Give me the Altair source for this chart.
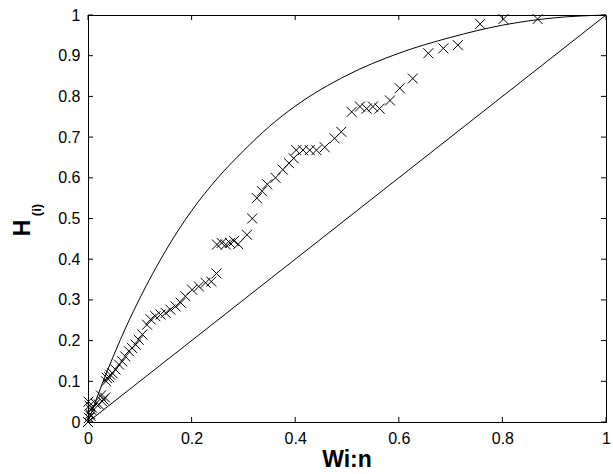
import altair as alt
import pandas as pd

# scatter points (Wi:n, H(i))
pts_x = [0.0, 0.002, 0.004, 0.006, 0.003, 0.008, 0.001, 0.005,
         0.015, 0.021, 0.027, 0.03, 0.025, 0.033,
         0.035, 0.037, 0.041, 0.043, 0.047, 0.053, 0.06, 0.066, 0.072, 0.079, 0.085,
         0.092, 0.098, 0.105, 0.114, 0.121, 0.13, 0.14, 0.15, 0.159, 0.169, 0.179,
         0.188, 0.201, 0.214, 0.227, 0.238, 0.248,
         0.249, 0.258, 0.266, 0.274, 0.282, 0.29, 0.307, 0.317,
         0.326, 0.336, 0.346, 0.362, 0.376, 0.388, 0.397,
         0.402, 0.415, 0.428, 0.441, 0.457, 0.476, 0.489,
         0.509, 0.525, 0.538, 0.55, 0.563, 0.583, 0.602, 0.627,
         0.657, 0.686, 0.714, 0.757, 0.802, 0.868]
pts_y = [0.0, 0.01, 0.02, 0.03, 0.04, 0.035, 0.05, 0.015,
         0.045, 0.043, 0.051, 0.055, 0.065, 0.06,
         0.1, 0.108, 0.11, 0.116, 0.12, 0.129, 0.141, 0.149, 0.161, 0.174, 0.182,
         0.19, 0.202, 0.215, 0.239, 0.252, 0.26, 0.264, 0.268, 0.276, 0.284, 0.293,
         0.309, 0.325, 0.333, 0.342, 0.345, 0.365,
         0.436, 0.44, 0.436, 0.44, 0.445, 0.437, 0.46, 0.5,
         0.55, 0.567, 0.584, 0.6, 0.62, 0.636, 0.648,
         0.668, 0.668, 0.668, 0.668, 0.675, 0.697, 0.713,
         0.762, 0.775, 0.77, 0.775, 0.77, 0.79, 0.82, 0.844,
         0.906, 0.918, 0.926, 0.978, 0.99, 0.99]

# upper bound curve
curve_x = [0.0, 0.025, 0.05, 0.075, 0.1, 0.15, 0.2, 0.25, 0.3, 0.35, 0.4,
           0.5, 0.6, 0.7, 0.8, 0.9, 1.0]
curve_y = [0.0, 0.086, 0.165, 0.238, 0.304, 0.421, 0.519, 0.599, 0.666, 0.726, 0.776,
           0.852, 0.906, 0.945, 0.975, 0.993, 1.0]

# diagonal
diag_x = [0.0, 1.0]
diag_y = [0.0, 1.0]

x_ticks = [0, 0.2, 0.4, 0.6, 0.8, 1]
y_ticks = [0, 0.1, 0.2, 0.3, 0.4, 0.5, 0.6, 0.7, 0.8, 0.9, 1]

W, H = 518, 407
FONT = "Liberation Sans"

xs = alt.Scale(domain=[0, 1], nice=False, zero=False)
ys = alt.Scale(domain=[0, 1], nice=False, zero=False)

xaxis = alt.Axis(values=x_ticks, format="~g", ticks=False, grid=False, title=None,
                 labelFont=FONT, labelFontSize=16, labelColor="black", labelPadding=8,
                 domainColor="black", labelFlush=False, labelOverlap=False)
yaxis = alt.Axis(values=y_ticks, format="~g", ticks=False, grid=False, title=None,
                 labelFont=FONT, labelFontSize=16, labelColor="black", labelPadding=8,
                 domainColor="black", labelFlush=False, labelOverlap=False)

def X(f):
    return alt.X(f, scale=xs, axis=xaxis)

def Y(f):
    return alt.Y(f, scale=ys, axis=yaxis)

diag = alt.Chart(pd.DataFrame({"x": diag_x, "y": diag_y})).mark_line(
    color="black", strokeWidth=1).encode(x=X("x:Q"), y=Y("y:Q"))

curve = alt.Chart(pd.DataFrame({"x": curve_x, "y": curve_y})).mark_line(
    color="black", strokeWidth=1, interpolate="monotone").encode(x=X("x:Q"), y=Y("y:Q"))

points = alt.Chart(pd.DataFrame({"x": pts_x, "y": pts_y})).mark_point(
    shape="M-1,-1L1,1M-1,1L1,-1", filled=False, color="black",
    strokeWidth=1, size=100, opacity=1).encode(x=X("x:Q"), y=Y("y:Q"))

xt = pd.DataFrame({"x": x_ticks})
yt = pd.DataFrame({"y": y_ticks})
tick_bottom = alt.Chart(xt).mark_rule(color="black", strokeWidth=1).encode(
    x=X("x:Q"), y=alt.value(H), y2=alt.value(H - 5))
tick_top = alt.Chart(xt).mark_rule(color="black", strokeWidth=1).encode(
    x=X("x:Q"), y=alt.value(0), y2=alt.value(5))
tick_left = alt.Chart(yt).mark_rule(color="black", strokeWidth=1).encode(
    y=Y("y:Q"), x=alt.value(0), x2=alt.value(5))
tick_right = alt.Chart(yt).mark_rule(color="black", strokeWidth=1).encode(
    y=Y("y:Q"), x=alt.value(W), x2=alt.value(W - 5))

xtitle = alt.Chart(pd.DataFrame({"t": ["Wi:n"]})).mark_text(
    font=FONT, fontSize=23, fontWeight="bold", color="black",
    align="center", baseline="middle").encode(
    x=alt.value(259), y=alt.value(445), text="t:N")
ytitle = alt.Chart(pd.DataFrame({"t": ["H"]})).mark_text(
    font=FONT, fontSize=23, fontWeight="bold", color="black", angle=270,
    align="center", baseline="middle").encode(
    x=alt.value(-65), y=alt.value(213), text="t:N")
ysub = alt.Chart(pd.DataFrame({"t": ["(i)"]})).mark_text(
    font=FONT, fontSize=13, fontWeight="bold", color="black", angle=270,
    align="center", baseline="middle").encode(
    x=alt.value(-51), y=alt.value(195), text="t:N")

chart = alt.layer(diag, curve, points, tick_bottom, tick_top, tick_left, tick_right,
                  xtitle, ytitle, ysub).properties(
    width=W, height=H,
    autosize=alt.AutoSizeParams(type="none"),
    padding={"left": 88, "top": 15, "right": 7, "bottom": 52},
    background="white",
).configure_view(stroke="black", strokeWidth=1)

chart.save("out.html", embed_options={"renderer": "svg", "actions": False})
